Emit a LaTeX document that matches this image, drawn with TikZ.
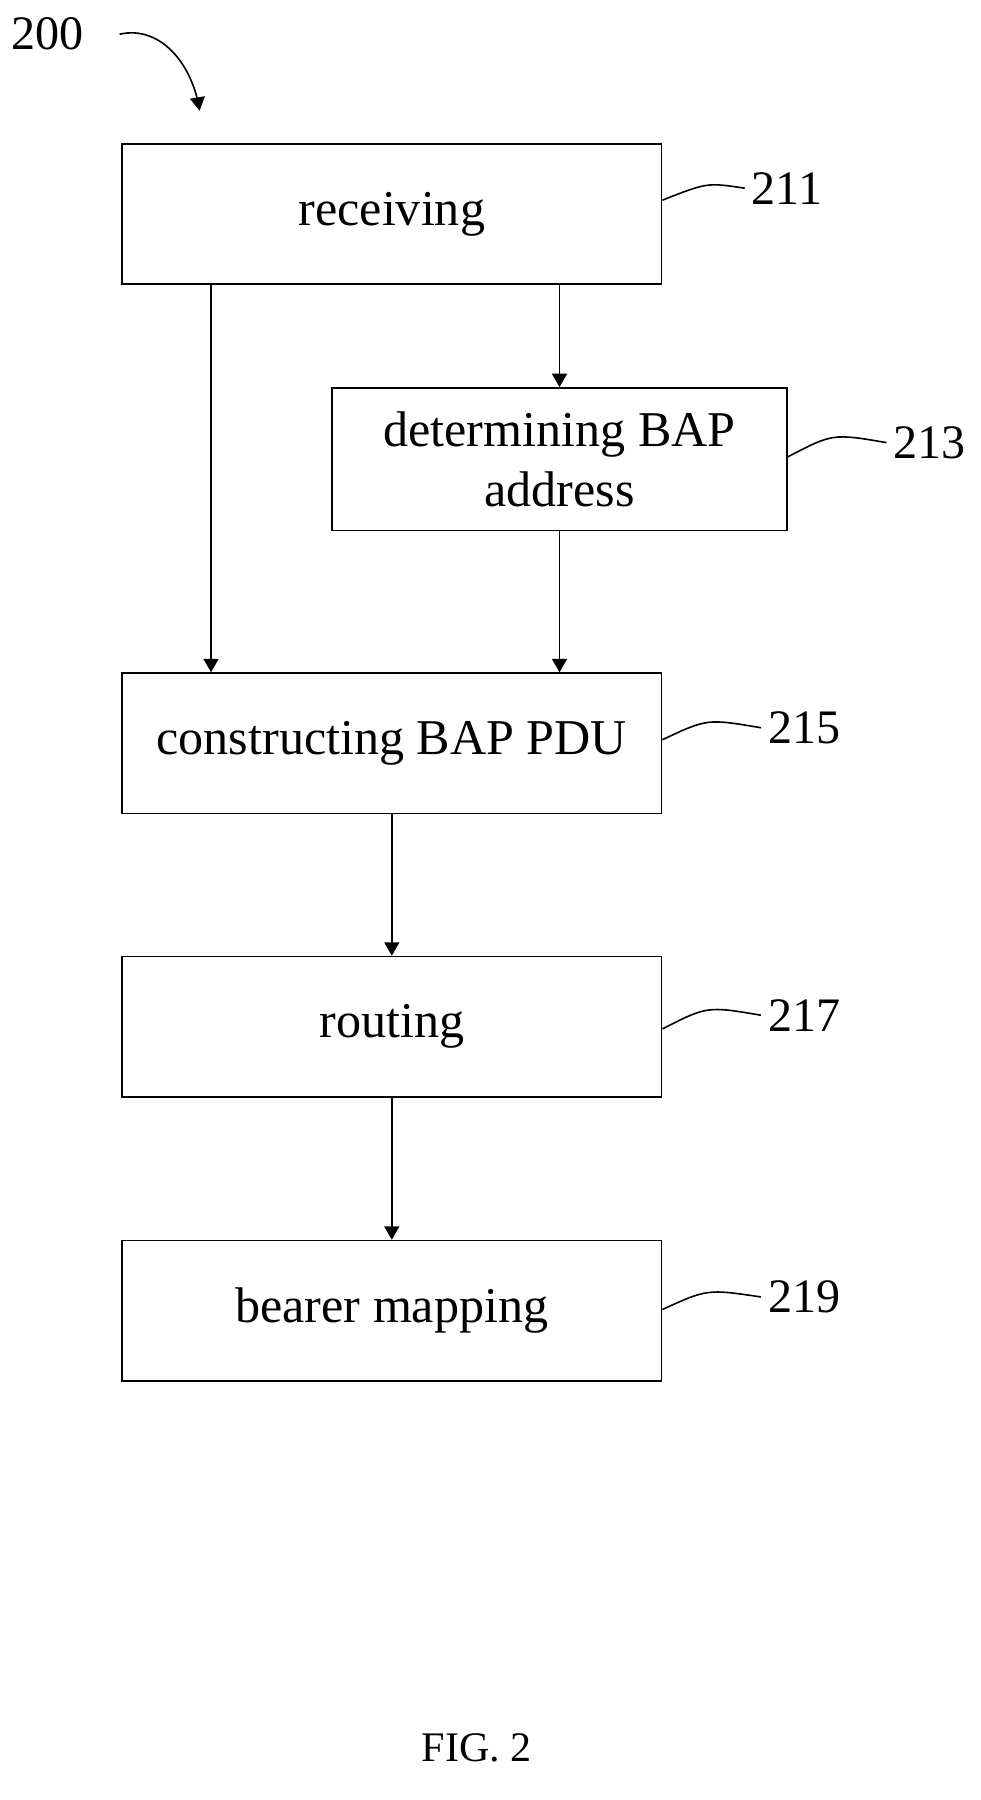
\documentclass[tikz,border=0pt]{standalone}
\usepackage{fontspec}
\setmainfont{Liberation Serif}
\usetikzlibrary{arrows,calc,positioning}
\begin{document}
\begin{tikzpicture}[x=0.02cm,y=-0.02cm]
\tikzstyle{stage}=[draw, thick, minimum width=9.46cm, minimum height=2.46cm, inner sep=0pt, font=\fontsize{25}{30}\selectfont, align=center]
\tikzstyle{lbl}=[font=\fontsize{24}{28}\selectfont]
\tikzstyle{flow}=[-triangle 60, thick]
\useasboundingbox (0,0) rectangle (860,1578);

\node [stage] (rec) at (343.5,187.5) {receiving};
\node [stage, minimum width=7.98cm, minimum height=2.5cm] (det) at (490.5,402.5) {determining BAP\\address};
\node [stage] (con) at (343.5,651.5) {constructing BAP PDU};
\node [stage] (rou) at (343.5,900) {routing};
\node [stage] (bea) at (343.5,1149) {bearer mapping};

\node [lbl] (n211) at (690,165) {211};
\node [lbl] (n213) at (815,388) {213};
\node [lbl] (n215) at (705,638) {215};
\node [lbl] (n217) at (705,890) {217};
\node [lbl] (n219) at (705,1137) {219};
\node [lbl] (n200) at (42,30) {200};
\node [font=\fontsize{21}{25}\selectfont] (fig) at (418,1532) {FIG. 2};

% leaders
\draw [thick] ($(rec.east)+(0,-12)$) .. controls (620,160) .. (n211.west);
\draw [thick] ($(det.east)+(0,-2)$) .. controls (730,380) .. (n213.west);
\draw [thick] ($(con.east)+(0,-3)$) .. controls (620,630) .. (n215.west);
\draw [thick] ($(rou.east)+(0,2)$) .. controls (620,882) .. (n217.west);
\draw [thick] ($(bea.east)+(0,-1)$) .. controls (620,1130) .. (n219.west);

% flow
\coordinate (a) at (185,0);
\draw [flow] (rec.south -| a) -- (con.north -| a);
\draw [flow] (rec.south -| det) -- (det.north);
\draw [flow] (det.south) -- (con.north -| det);
\draw [flow] (con) -- (rou);
\draw [flow] (rou) -- (bea);
\coordinate (b) at (175,97);
\draw [flow] ($(n200.east)+(25,0)$) .. controls (140,22) and (168,55) .. (b);
\end{tikzpicture}
\end{document}
